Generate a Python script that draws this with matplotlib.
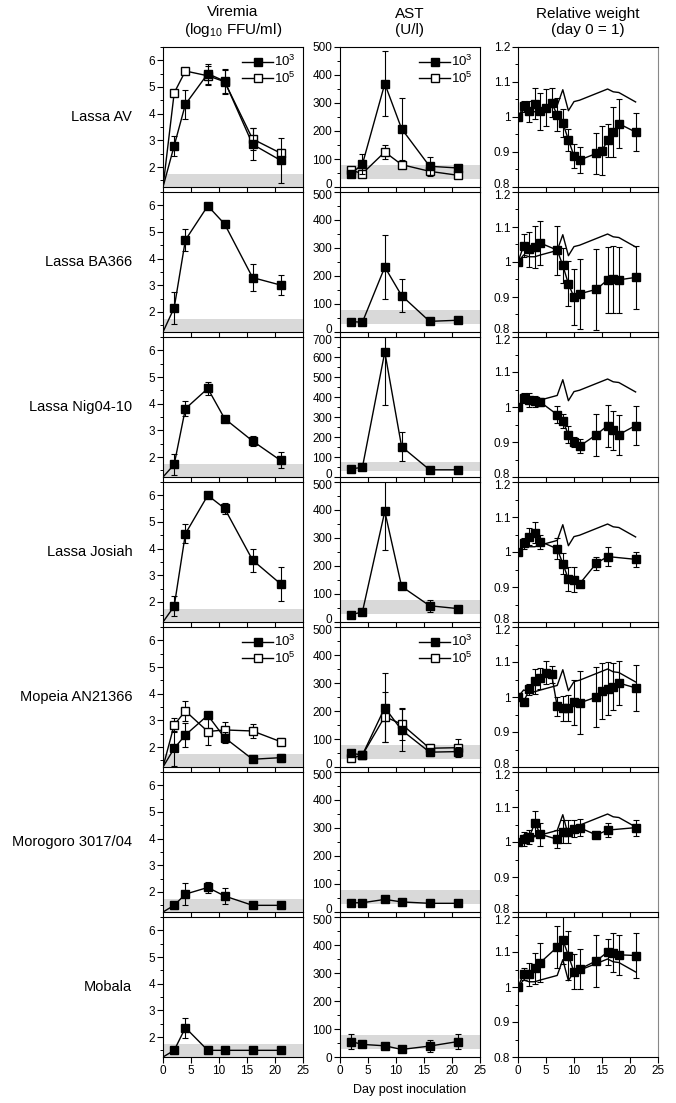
import numpy as np
import matplotlib.pyplot as plt
from matplotlib.ticker import MultipleLocator
from matplotlib.lines import Line2D
from matplotlib.transforms import ScaledTranslation

plt.rcParams['font.family'] = ['Liberation Sans', 'DejaVu Sans']
plt.rcParams['mathtext.default'] = 'regular'

# Row labels
viruses = ['Lassa AV', 'Lassa BA366', 'Lassa Nig04-10', 'Lassa Josiah',
           'Mopeia AN21366', 'Morogoro 3017/04', 'Mobala']

# Viremia (log10 FFU/ml); day 0 is the line start at the axis floor
vir_days = [0, 2, 4, 8, 11, 16, 21]
vir_lo = [[1.25, 2.8, 4.35, 5.5, 5.22, 2.85, 2.25],
          [1.25, 2.16, 4.7, 5.98, 5.3, 3.29, 3.01],
          [1.25, 1.72, 3.81, 4.57, 3.44, 2.6, 1.87],
          [1.25, 1.84, 4.56, 6.0, 5.51, 3.57, 2.68],
          [1.25, 1.95, 2.45, 3.19, 2.35, 1.54, 1.6],
          [1.25, 1.5, 1.92, 2.17, 1.85, 1.5, 1.5],
          [1.25, 1.5, 2.35, 1.5, 1.5, 1.5, 1.5]]
vir_lo_err = [[0.37, 0.55, 0.38, 0.45, 0.6, 0.85],
              [0.6, 0.42, 0.03, 0.06, 0.52, 0.36],
              [0.4, 0.28, 0.25, 0.1, 0.2, 0.3],
              [0.37, 0.35, 0.03, 0.22, 0.43, 0.63],
              [0.65, 0.44, 0.12, 0.2, 0.0, 0.15],
              [0.0, 0.42, 0.2, 0.3, 0.0, 0.0],
              [0.0, 0.38, 0.0, 0.0, 0.0, 0.0]]
# 10^5 dose groups (Lassa AV and Mopeia only)
vir_hi = {0: [1.25, 4.78, 5.6, 5.42, 5.2, 3.05, 2.52],
          4: [1.25, 2.83, 3.35, 2.58, 2.64, 2.6, 2.2]}
vir_hi_err = {0: [0.0, 0.0, 0.35, 0.45, 0.4, 0.15],
              4: [0.25, 0.37, 0.5, 0.3, 0.28, 0.12]}

# AST (U/l)
ast_days = [2, 4, 8, 11, 16, 21]
ast_lo = [[48, 81, 369, 208, 74, 68],
          [37, 35, 232, 130, 38, 42],
          [41, 48, 625, 152, 36, 36],
          [26, 36, 395, 127, 58, 48],
          [49, 43, 212, 132, 53, 55],
          [33, 33, 45, 36, 31, 31],
          [55, 45, 40, 27, 39, 55]]
ast_lo_err = [[10, 36, 115, 110, 33, 10],
              [0, 0, 113, 60, 8, 0],
              [0, 0, 265, 71, 0, 0],
              [0, 0, 139, 8, 22, 0],
              [0, 0, 123, 74, 12, 18],
              [0, 0, 0, 10, 0, 0],
              [26, 0, 0, 0, 22, 26]]
ast_hi = {0: [60, 48, 125, 80, 56, 42],
          4: [31, 43, 180, 153, 67, 69]}
ast_hi_err = {0: [8, 0, 26, 8, 0, 0],
              4: [0, 0, 89, 57, 15, 30]}
ast_top = [500, 500, 700, 500, 500, 500, 500]

# Relative weight (day 0 = 1)
wt_days = [[0, 1, 2, 3, 4, 5, 6, 7, 8, 9, 10, 11, 14, 15, 16, 17, 18, 21],
           [0, 1, 2, 3, 4, 7, 8, 9, 10, 11, 14, 16, 17, 18, 21],
           [0, 1, 2, 3, 4, 7, 8, 9, 10, 11, 14, 16, 17, 18, 21],
           [0, 1, 2, 3, 4, 7, 8, 9, 10, 11, 14, 16, 21],
           [0, 1, 2, 3, 4, 5, 6, 7, 8, 9, 10, 11, 14, 15, 16, 17, 18, 21],
           [0, 1, 2, 3, 4, 7, 8, 9, 10, 11, 14, 16, 21],
           [0, 1, 2, 3, 4, 7, 8, 9, 10, 11, 14, 16, 17, 18, 21]]
wt = [[1.0, 1.03, 1.016, 1.038, 1.016, 1.027, 1.041, 1.006, 0.983, 0.935,
       0.889, 0.877, 0.896, 0.904, 0.933, 0.957, 0.981, 0.957],
      [1.0, 1.046, 1.036, 1.042, 1.054, 1.034, 0.99, 0.938, 0.899, 0.909,
       0.922, 0.949, 0.95, 0.949, 0.956],
      [1.0, 1.026, 1.019, 1.016, 1.014, 0.978, 0.96, 0.921, 0.9, 0.888,
       0.921, 0.947, 0.933, 0.921, 0.947],
      [1.0, 1.025, 1.044, 1.055, 1.03, 1.009, 0.967, 0.923, 0.921, 0.909,
       0.968, 0.987, 0.979],
      [1.0, 0.985, 1.022, 1.045, 1.053, 1.069, 1.065, 0.973, 0.968, 0.968,
       0.985, 0.983, 1.0, 1.016, 1.024, 1.029, 1.04, 1.026],
      [1.0, 1.01, 1.014, 1.054, 1.022, 1.008, 1.03, 1.03, 1.038, 1.041,
       1.02, 1.034, 1.041],
      [1.0, 1.037, 1.037, 1.053, 1.07, 1.114, 1.135, 1.09, 1.043, 1.051,
       1.075, 1.1, 1.098, 1.092, 1.09]]
wt_err = [[0.0, 0.015, 0.03, 0.045, 0.053, 0.054, 0.042, 0.047, 0.041, 0.032,
           0.035, 0.038, 0.058, 0.07, 0.048, 0.072, 0.07, 0.055],
          [0.0, 0.033, 0.05, 0.06, 0.062, 0.07, 0.05, 0.065, 0.08, 0.1,
           0.115, 0.095, 0.095, 0.095, 0.09],
          [0.0, 0.015, 0.02, 0.015, 0.012, 0.025, 0.02, 0.025, 0.015, 0.02,
           0.06, 0.06, 0.057, 0.057, 0.055],
          [0.0, 0.015, 0.025, 0.03, 0.02, 0.03, 0.03, 0.033, 0.035, 0.005,
           0.018, 0.027, 0.022],
          [0.0, 0.005, 0.015, 0.035, 0.03, 0.033, 0.025, 0.028, 0.036, 0.037,
           0.065, 0.09, 0.085, 0.08, 0.075, 0.067, 0.063, 0.065],
          [0.0, 0.02, 0.02, 0.035, 0.032, 0.025, 0.032, 0.032, 0.025, 0.025,
           0.0, 0.02, 0.023],
          [0.0, 0.017, 0.033, 0.043, 0.057, 0.06, 0.07, 0.07, 0.05, 0.057,
           0.075, 0.037, 0.055, 0.057, 0.065]]
# uninfected control weight (plain line, same in every row)
ctrl_days = [0, 1, 2, 3, 4, 7, 8, 9, 10, 11, 16, 17, 18, 21]
ctrl_wt = [1.0, 1.02, 1.015, 1.015, 1.02, 1.033, 1.078, 1.018, 1.044, 1.048,
           1.08, 1.072, 1.07, 1.043]

W, H = 676, 1103
fig = plt.figure(figsize=(W / 100, H / 100), dpi=100)

col_x = [163, 340, 518]
col_w = 140
row_top0 = 47
row_step = 145
row_h = 140

tick_fs = 8.5
ms = 6

def panel(r, c):
    left = col_x[c] / W
    bottom = 1 - (row_top0 + r * row_step + row_h) / H
    ax = fig.add_axes([left, bottom, col_w / W, row_h / H])
    ax.set_xlim(0, 25)
    ax.xaxis.set_major_locator(MultipleLocator(5))
    ax.tick_params(direction='out', length=4, width=0.8, labelsize=tick_fs, pad=1.5)
    ax.tick_params(which='minor', direction='out', length=2, width=0.7)
    for s in ax.spines.values():
        s.set_linewidth(0.8)
    if r < 6:
        ax.tick_params(axis='x', labelbottom=False)
    return ax

def nudge_edge_labels(ax, r):
    # keep the end labels of stacked panels from running into each other
    ticks = ax.yaxis.get_major_ticks()
    if r < 6:
        lab = ticks[0].label1
        lab.set_transform(lab.get_transform() + ScaledTranslation(0, 2.5 / 72, fig.dpi_scale_trans))
    if r > 0:
        lab = ticks[-1].label1
        lab.set_transform(lab.get_transform() + ScaledTranslation(0, -1.5 / 72, fig.dpi_scale_trans))

def legend(ax):
    h = [Line2D([], [], color='k', lw=1, marker='s', ms=ms, mfc='k', mec='k'),
         Line2D([], [], color='k', lw=1, marker='s', ms=ms, mfc='white', mec='k')]
    ax.legend(h, ['10$^3$', '10$^5$'], loc='upper right', frameon=False,
              fontsize=9.5, handlelength=2.3, handletextpad=0.1,
              labelspacing=0.1, borderaxespad=0.15)

for r in range(7):
    # Viremia
    ax = panel(r, 0)
    ax.set_ylim(1.25, 6.5)
    ax.yaxis.set_major_locator(MultipleLocator(1))
    ax.yaxis.set_minor_locator(MultipleLocator(0.5))
    ax.axhspan(1.25, 1.72, color='#d9d9d9', lw=0, zorder=0)
    if r in vir_hi:
        ax.plot(vir_days, vir_hi[r], color='k', lw=1, zorder=2)
        ax.errorbar(vir_days[1:], vir_hi[r][1:], yerr=vir_hi_err[r], fmt='s',
                    color='k', mfc='white', mec='k', ms=ms, elinewidth=0.8,
                    capsize=2.2, capthick=0.8, zorder=3)
    ax.plot(vir_days, vir_lo[r], color='k', lw=1, zorder=2)
    ax.errorbar(vir_days[1:], vir_lo[r][1:], yerr=vir_lo_err[r], fmt='s',
                color='k', mfc='k', ms=ms, elinewidth=0.8, capsize=2.2,
                capthick=0.8, zorder=4)
    if r in vir_hi:
        legend(ax)
    ax.text(-0.22, 0.5, viruses[r], transform=ax.transAxes, ha='right',
            va='center', fontsize=10.5)

    # AST
    ax = panel(r, 1)
    ax.set_ylim(0, ast_top[r])
    ax.set_yticks(np.arange(0, ast_top[r] + 1, 100))
    ax.yaxis.set_minor_locator(MultipleLocator(50))
    ax.axhspan(30, 77, color='#d9d9d9', lw=0, zorder=0)
    if r in ast_hi:
        ax.errorbar(ast_days, ast_hi[r], yerr=ast_hi_err[r], fmt='-s',
                    color='k', mfc='white', mec='k', ms=ms, lw=1,
                    elinewidth=0.8, capsize=2.2, capthick=0.8, zorder=3)
    ax.errorbar(ast_days, ast_lo[r], yerr=ast_lo_err[r], fmt='-s',
                color='k', mfc='k', ms=ms, lw=1, elinewidth=0.8, capsize=2.2,
                capthick=0.8, zorder=4)
    if r in ast_hi:
        legend(ax)
    nudge_edge_labels(ax, r)

    # Relative weight
    ax = panel(r, 2)
    ax.set_ylim(0.8, 1.2)
    ax.set_yticks([0.8, 0.9, 1.0, 1.1, 1.2])
    ax.set_yticklabels(['0.8', '0.9', '1', '1.1', '1.2'])
    ax.yaxis.set_minor_locator(MultipleLocator(0.05))
    ax.spines['right'].set_color('#888888')
    ax.plot(ctrl_days, ctrl_wt, color='k', lw=1, zorder=2)
    ax.errorbar(wt_days[r], wt[r], yerr=wt_err[r], fmt='-s', color='k',
                mfc='k', ms=ms, lw=1, elinewidth=0.8, capsize=2.2,
                capthick=0.8, zorder=3)
    nudge_edge_labels(ax, r)

# Column titles
titles = ['Viremia\n(log$_{10}$ FFU/ml)', 'AST\n(U/l)', 'Relative weight\n(day 0 = 1)']
for c, t in enumerate(titles):
    fig.text((col_x[c] + col_w / 2) / W, 1 - 22 / H, t, ha='center',
             va='center', fontsize=11, linespacing=1.1)

fig.text((col_x[1] + col_w / 2) / W, 1 - 1090 / H, 'Day post inoculation',
         ha='center', va='center', fontsize=9)

fig.savefig('out.png', dpi=100)
